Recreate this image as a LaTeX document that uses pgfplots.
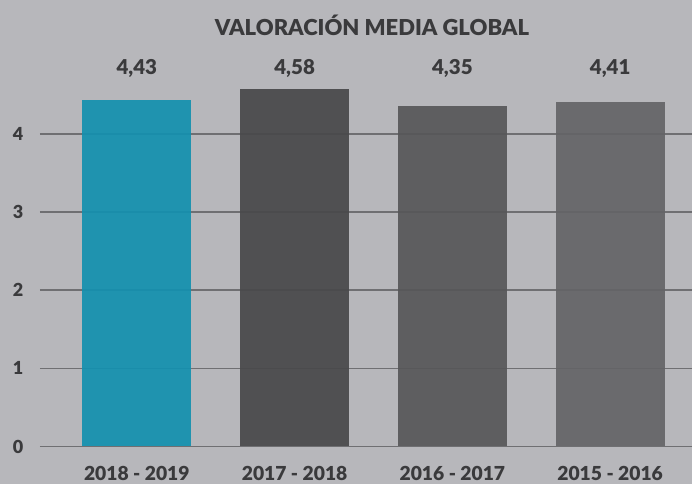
\documentclass[border=0pt]{standalone}
\usepackage{pgfplots}
\pgfplotsset{compat=1.18}
\usepackage{fontspec}
\setmainfont{Lato}[BoldFont={Lato Black}]
\definecolor{bgc}{HTML}{B7B7BB}
\definecolor{txt}{HTML}{3A3A3C}
\definecolor{gridc}{HTML}{6F6F72}
\definecolor{c1}{HTML}{1390AF}
\definecolor{c2}{HTML}{48484A}
\definecolor{c3}{HTML}{575759}
\definecolor{c4}{HTML}{646467}
\begin{document}
\begin{tikzpicture}[x=1pt,y=1pt]
\fill[bgc] (0,0) rectangle (693,485);
\begin{axis}[
  at={(40pt,38pt)}, anchor=south west,
  scale only axis, width=653pt, height=375.6pt,
  xmin=-0.614, xmax=3.52, ymin=0, ymax=4.8,
  clip=false,
  axis line style={draw=none},
  major tick style={draw=none},
  ytick={0,1,2,3,4},
  ymajorgrids,
  grid style={draw=gridc, line width=1.6pt},
  xtick={0,1,2,3},
  xticklabels={2018 - 2019,2017 - 2018,2016 - 2017,2015 - 2016},
  xticklabel style={anchor=center, yshift=-23pt, font=\fontsize{19.3}{19.3}\selectfont\bfseries, text=txt},
  yticklabel style={anchor=center, xshift=-22pt, font=\fontsize{18}{18}\selectfont\bfseries, text=txt},
  /pgf/number format/assume math mode=true,
  ybar, bar width=109pt, bar shift=0pt,
]
\addplot[fill=c1, draw=none, fill opacity=0.92] coordinates {(0,4.43)};
\addplot[fill=c2, draw=none, fill opacity=0.92] coordinates {(1,4.58)};
\addplot[fill=c3, draw=none, fill opacity=0.92] coordinates {(2,4.35)};
\addplot[fill=c4, draw=none, fill opacity=0.92] coordinates {(3,4.41)};
\node[text=txt, font=\fontsize{20.5}{20.5}\selectfont\bfseries] at (axis cs:0,4.84) {4,43};
\node[text=txt, font=\fontsize{20.5}{20.5}\selectfont\bfseries] at (axis cs:1,4.84) {4,58};
\node[text=txt, font=\fontsize{20.5}{20.5}\selectfont\bfseries] at (axis cs:2,4.84) {4,35};
\node[text=txt, font=\fontsize{20.5}{20.5}\selectfont\bfseries] at (axis cs:3,4.84) {4,41};
\node[text=txt, font=\fontsize{22}{22}\selectfont\bfseries] at (axis cs:1.49,5.39) {VALORACIÓN MEDIA GLOBAL};
\end{axis}
\end{tikzpicture}
\end{document}
